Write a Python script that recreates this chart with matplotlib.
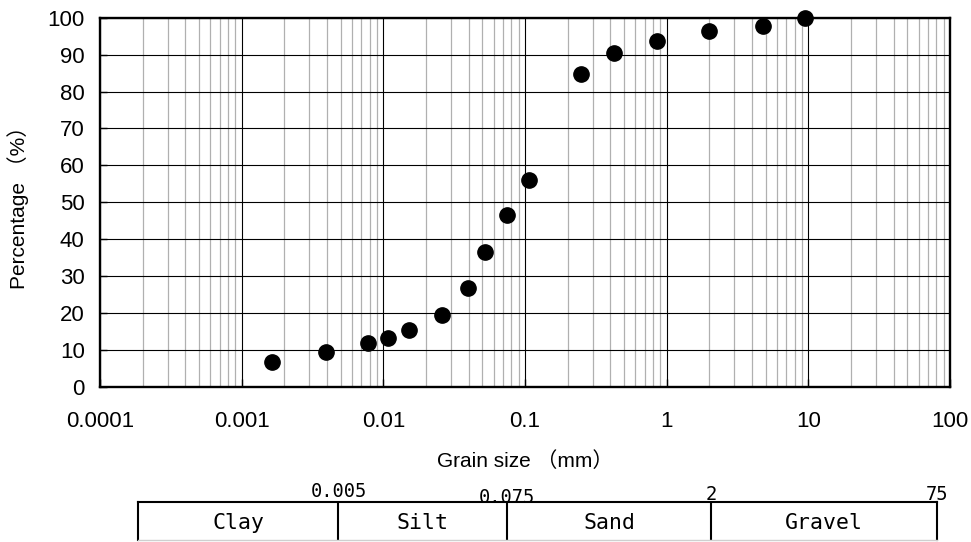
import numpy as np
import matplotlib
matplotlib.use("Agg")
import matplotlib.pyplot as plt
from matplotlib.ticker import FixedLocator, FixedFormatter, LogLocator, NullFormatter
from matplotlib.transforms import Bbox, TransformedBbox

plt.rcParams['font.family'] = ['Liberation Sans', 'Noto Sans CJK JP']

# ---------------- data ----------------
grain_size_mm = [0.00164, 0.00394, 0.0078, 0.0108, 0.0152, 0.0258, 0.0394, 0.0523,
                 0.075, 0.106, 0.25, 0.425, 0.85, 2.0, 4.75, 9.5]
percent_finer = [6.8, 9.5, 11.8, 13.4, 15.4, 19.5, 26.8, 36.5,
                 46.6, 56.1, 84.8, 90.4, 93.8, 96.3, 97.8, 100.0]

x_ticks = [0.0001, 0.001, 0.01, 0.1, 1, 10, 100]
x_tick_labels = ["0.0001", "0.001", "0.01", "0.1", "1", "10", "100"]
y_ticks = [0, 10, 20, 30, 40, 50, 60, 70, 80, 90, 100]

class_boundaries = [0.005, 0.075, 2, 75]
boundary_labels = ["0.005", "0.075", "2", "75"]
soil_classes = ["Clay", "Silt", "Sand", "Gravel"]

# ---------------- layout ----------------
W, H = 971, 542
TABLE_LEFT = 0.0002          # left edge of the classification table (unlabelled)
label_baseline_px = [497, 503, 500, 500]

fig = plt.figure(figsize=(W / 100, H / 100), dpi=100)
ax = fig.add_axes([100 / W, 1 - 387 / H, 850 / W, (387 - 17.7) / H])

ax.set_xscale('log')
ax.set_xlim(x_ticks[0], x_ticks[-1])
ax.set_ylim(0, 100)

ax.xaxis.set_major_locator(FixedLocator(x_ticks))
ax.xaxis.set_major_formatter(FixedFormatter(x_tick_labels))
ax.xaxis.set_minor_locator(LogLocator(base=10, subs=np.arange(2, 10)))
ax.xaxis.set_minor_formatter(NullFormatter())
ax.set_yticks(y_ticks)

ax.grid(which='major', axis='both', color='black', linewidth=0.8)
ax.grid(which='minor', axis='x', color='#b0b0b0', linewidth=0.9)
ax.set_axisbelow(True)

ax.tick_params(axis='x', which='major', direction='in', length=6, width=1,
               labelsize=16, pad=17)
ax.tick_params(axis='x', which='minor', length=0)
ax.tick_params(axis='y', which='major', direction='in', length=5, width=1,
               labelsize=16, pad=11)
for s in ax.spines.values():
    s.set_linewidth(1.7)
    s.set_color('black')

ax.plot(grain_size_mm, percent_finer, 'o', color='black', markersize=11,
        clip_on=False, zorder=5)

ax.set_xlabel("Grain size （mm）", fontsize=15, labelpad=14)
ax.set_ylabel("Percentage （%）", fontsize=15, labelpad=13)

# ---------------- classification table ----------------
tab = fig.add_axes([138 / W, 1 - 540 / H, (937 - 138) / W, 38 / H])
tab.set_xscale('log')
tab.set_xlim(TABLE_LEFT, class_boundaries[-1])
tab.set_ylim(0, 1)
tab.set_xticks([])
tab.set_yticks([])
tab.minorticks_off()
for side in ['top', 'left', 'right']:
    tab.spines[side].set_linewidth(1.5)
    tab.spines[side].set_color('black')
tab.spines['bottom'].set_color('#cfcfcf')
tab.spines['bottom'].set_linewidth(1.0)
tab.patch.set_alpha(0)

for b in class_boundaries[:-1]:
    tab.axvline(b, color='black', linewidth=1.5)

edges = [TABLE_LEFT] + class_boundaries
for name, e0, e1 in zip(soil_classes, edges[:-1], edges[1:]):
    tab.text(np.sqrt(e0 * e1), 0.45, name, ha='center', va='center',
             fontsize=15.5, family='DejaVu Sans Mono')

clip_bbox = TransformedBbox(Bbox.from_extents(0, 0, 1, 1 - 486 / H), fig.transFigure)
for i, (b, lab) in enumerate(zip(class_boundaries, boundary_labels)):
    y = (540 - label_baseline_px[i]) / 38
    t = tab.text(b, y, lab, ha='center', va='baseline', fontsize=13.5,
                 family='DejaVu Sans Mono', clip_on=False)
    if i == len(class_boundaries) - 1:
        t.set_clip_on(True)
        t.set_clip_box(clip_bbox)

fig.savefig("out.png", dpi=100)
